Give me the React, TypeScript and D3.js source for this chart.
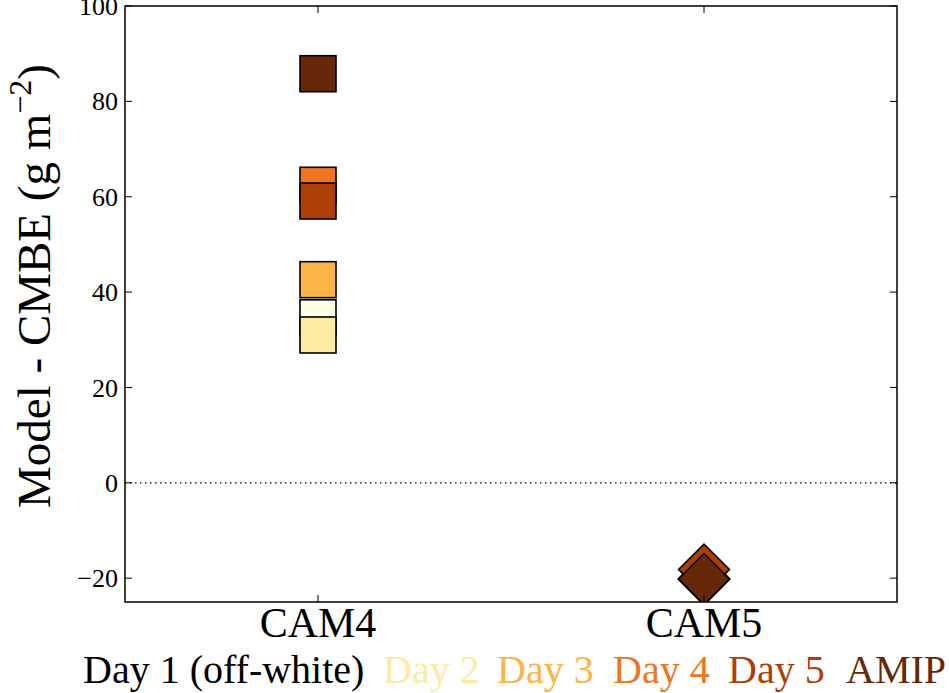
import React from "react";
import * as d3 from "d3";

// データ
const models = ["CAM4", "CAM5"];
const series = ["Day 1", "Day 2", "Day 3", "Day 4", "Day 5", "AMIP"];
const legendLabels = ["Day 1 (off-white)", "Day 2", "Day 3", "Day 4", "Day 5", "AMIP"];
const colors = ["#fffee6", "#feeaa2", "#fdb447", "#ee7520", "#ad3f06", "#662808"];
const cam4Values = [34.6, 31.0, 42.6, 62.4, 59.1, 85.8];
const cam5Values = [-20.2, -20.2, -20.2, -20.2, -18.2, -20.2];
const yTicks = [-20, 0, 20, 40, 60, 80, 100];

const W = 949;
const H = 693;
const m = { left: 125, right: 52, top: 6, bottom: 91 };
const FONT = "'Liberation Serif', 'Times New Roman', serif";
const MARK = 36; // マーカー一辺
const TICK = 7;

export default function App() {
  const x = d3.scaleLinear().domain([0.5, 2.5]).range([m.left, W - m.right]);
  const y = d3.scaleLinear().domain([-25, 100]).range([H - m.bottom, m.top]);
  const [x0, x1] = x.range();
  const [yb, yt] = y.range();

  const values = [cam4Values, cam5Values];

  // 凡例の開始位置
  const legendX = [83, 383, 497, 613, 728, 846];

  return (
    <svg
      width={W}
      height={H}
      style={{ position: "absolute", left: 0, top: 0, background: "#fff" }}
      fontFamily={FONT}
    >
      <defs>
        <clipPath id="plot-clip">
          <rect x={x0} y={yt} width={x1 - x0} height={yb - yt} />
        </clipPath>
      </defs>

      {/* ゼロ線 */}
      <line
        x1={x0}
        x2={x1}
        y1={y(0)}
        y2={y(0)}
        stroke="#000"
        strokeWidth={1.3}
        strokeDasharray="1.5 3.5"
      />

      {/* マーカー */}
      <g clipPath="url(#plot-clip)">
        {models.map((mdl, mi) =>
          series.map((s, si) => {
            const cx = x(mi + 1);
            const cy = y(values[mi][si]);
            const tr =
              mi === 0
                ? `translate(${cx},${cy})`
                : `translate(${cx},${cy}) rotate(45)`;
            return (
              <rect
                key={mdl + s}
                transform={tr}
                x={-MARK / 2}
                y={-MARK / 2}
                width={MARK}
                height={MARK}
                fill={colors[si]}
                stroke="#000"
                strokeWidth={1.6}
              />
            );
          })
        )}
      </g>

      {/* 枠 */}
      <rect
        x={x0}
        y={yt}
        width={x1 - x0}
        height={yb - yt}
        fill="none"
        stroke="#000"
        strokeWidth={1.5}
      />

      {/* Y目盛り */}
      {yTicks.map((t) => (
        <g key={t}>
          <line x1={x0} x2={x0 + TICK} y1={y(t)} y2={y(t)} stroke="#000" strokeWidth={1} />
          <line x1={x1 - TICK} x2={x1} y1={y(t)} y2={y(t)} stroke="#000" strokeWidth={1} />
          <text
            x={x0 - 7}
            y={y(t)}
            dy="0.35em"
            textAnchor="end"
            fontSize={26}
            fill="#000"
          >
            {t < 0 ? `\u2212${Math.abs(t)}` : t}
          </text>
        </g>
      ))}

      {/* X目盛り */}
      {models.map((mdl, i) => (
        <g key={mdl}>
          <line x1={x(i + 1)} x2={x(i + 1)} y1={yb} y2={yb - TICK} stroke="#000" strokeWidth={1} />
          <line x1={x(i + 1)} x2={x(i + 1)} y1={yt} y2={yt + TICK} stroke="#000" strokeWidth={1} />
          <text x={x(i + 1)} y={637} textAnchor="middle" fontSize={42} fill="#000">
            {mdl}
          </text>
        </g>
      ))}

      {/* Y軸ラベル */}
      <text
        transform={`translate(50,${(yt + yb) / 2 - 18}) rotate(-90)`}
        textAnchor="middle"
        fontSize={47}
        fill="#000"
      >
        Model - CMBE (g m
        <tspan fontSize={32} dy={-19}>
          {"\u22122"}
        </tspan>
        <tspan dy={19}>)</tspan>
      </text>

      {/* 凡例 */}
      {legendLabels.map((l, i) => (
        <text
          key={l}
          x={legendX[i]}
          y={683}
          fontSize={40}
          fill={i === 0 ? "#000" : colors[i]}
        >
          {l}
        </text>
      ))}
    </svg>
  );
}
